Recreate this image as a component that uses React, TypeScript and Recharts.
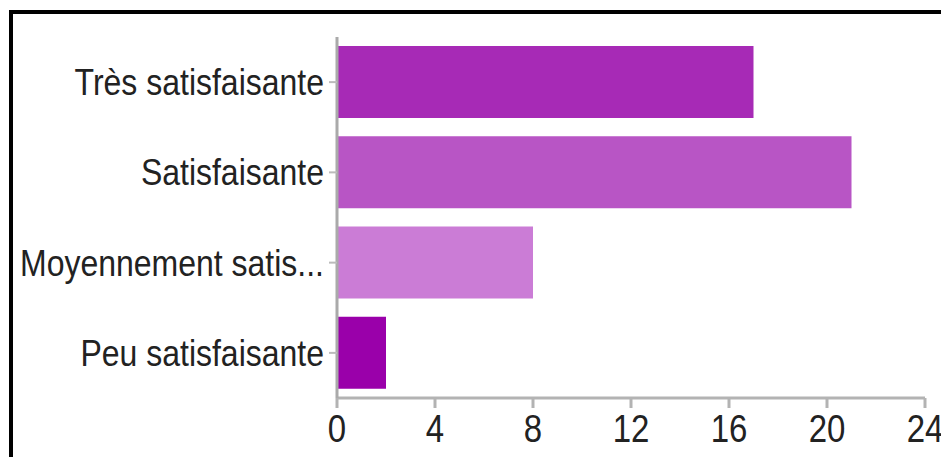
import React from "react";
import { BarChart, Bar, XAxis, YAxis, Cell } from "recharts";

const categories = ["Très satisfaisante", "Satisfaisante", "Moyennement satis...", "Peu satisfaisante"];
const values = [17, 21, 8, 2];
const barColors = ["#a72ab6", "#b855c5", "#cb7cd6", "#9a00aa"];
const xTicks = [0, 4, 8, 12, 16, 20, 24];

const data = categories.map((c, i) => ({ name: c, value: values[i] }));

const FONT = "'Liberation Sans', Arial, sans-serif";

const YTick = (props: any) => {
  const { x, y, payload } = props;
  return (
    <g transform={`translate(${x},${y})`}>
      <text
        x={0}
        y={0}
        dy="0.36em"
        textAnchor="end"
        fill="#222"
        fontSize={32}
        fontFamily={FONT}
        transform="scale(1,1.13)"
      >
        {payload.value}
      </text>
    </g>
  );
};

const XTick = (props: any) => {
  const { x, y, payload } = props;
  return (
    <g transform={`translate(${x},${y})`}>
      <text
        x={0}
        y={0}
        dy="0.72em"
        textAnchor="middle"
        fill="#222"
        fontSize={33}
        fontFamily={FONT}
        transform="scale(1,1.15)"
      >
        {payload.value}
      </text>
    </g>
  );
};

export default function App() {
  return (
    <div
      style={{
        position: "absolute",
        left: 0,
        top: 0,
        width: 941,
        height: 457,
        background: "#fff",
        overflow: "hidden",
      }}
    >
      <div
        style={{
          position: "absolute",
          left: 9,
          top: 10,
          width: 941,
          height: 457,
          borderLeft: "4px solid #000",
          borderTop: "4px solid #000",
        }}
      />
      <div style={{ position: "absolute", left: 0, top: 0 }}>
        <BarChart
          width={941}
          height={457}
          data={data}
          layout="vertical"
          margin={{ top: 37, right: 16, bottom: 0, left: 0 }}
          barCategoryGap="10%"
        >
          <XAxis
            type="number"
            domain={[0, 24]}
            ticks={xTicks}
            interval={0}
            height={59}
            stroke="#b3b3b3"
            strokeWidth={3}
            tickSize={10}
            tickMargin={7}
            tick={<XTick />}
          />
          <YAxis
            type="category"
            dataKey="name"
            width={337}
            stroke="#aaaaaa"
            strokeWidth={3}
            tickSize={8}
            tickMargin={5}
            tickLine={{ stroke: "#bbbbbb", strokeWidth: 2 }}
            tick={<YTick />}
            interval={0}
          />
          <Bar dataKey="value" isAnimationActive={false}>
            {data.map((d, i) => (
              <Cell key={d.name} fill={barColors[i]} />
            ))}
          </Bar>
        </BarChart>
      </div>
    </div>
  );
}
